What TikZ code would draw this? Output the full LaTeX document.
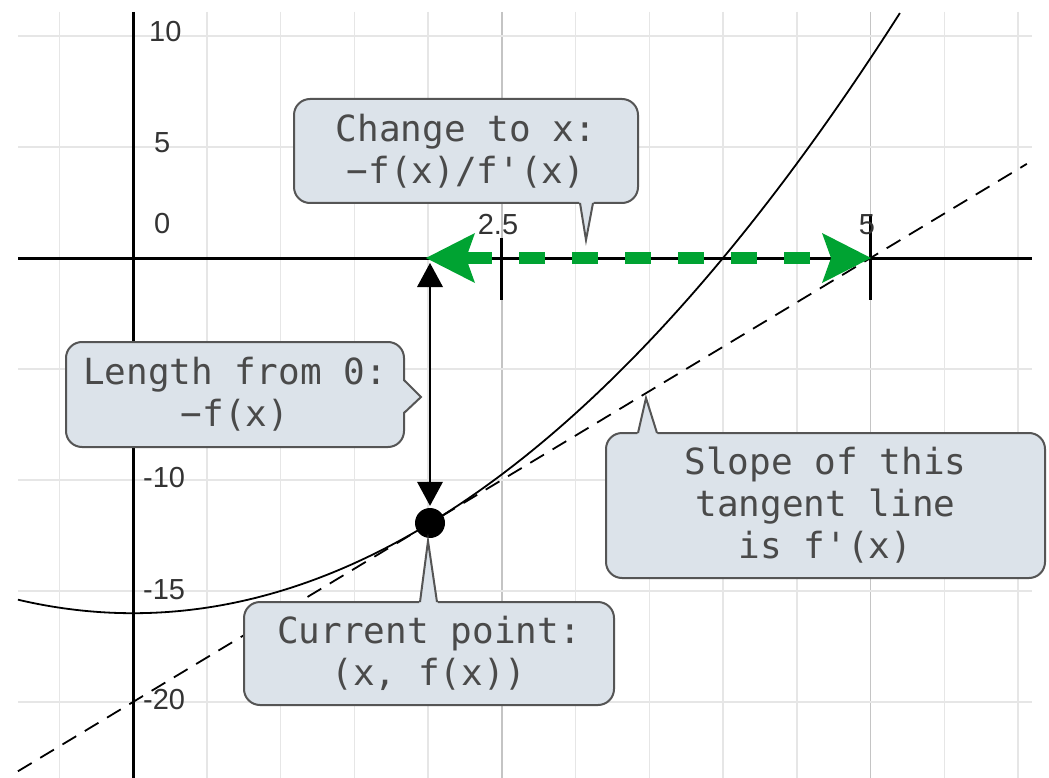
\documentclass[tikz,border=0pt]{standalone}
\usepackage{fontspec}
\setmainfont{Liberation Sans}
\setmonofont{DejaVu Sans Mono}
\usetikzlibrary{arrows.meta}
\definecolor{gridc}{HTML}{E6E6E6}
\definecolor{gridd}{HTML}{C4C4C4}
\definecolor{cfill}{HTML}{DCE3EA}
\definecolor{cborder}{HTML}{555555}
\definecolor{ctext}{HTML}{4A4A4A}
\definecolor{garrow}{HTML}{00A332}
\definecolor{labc}{HTML}{333333}
\begin{document}
\begin{tikzpicture}[x=1pt,y=-1pt,
  gridline/.style={draw=gridc,line width=1.5pt},
  gridmaj/.style={draw=gridd,line width=1.5pt},
  axisline/.style={draw=black,line width=3pt},
  curveline/.style={draw=black,line width=1.8pt},
  tangentline/.style={draw=black,line width=1.8pt,dash pattern=on 16pt off 10pt},
  numlabel/.style={font=\fontsize{29}{33}\selectfont,text=labc,inner sep=0pt},
  callout/.style={draw=cborder,fill=cfill,line width=2pt,rounded corners=16pt,
    align=center,font=\ttfamily\fontsize{36}{42}\selectfont,text=ctext,inner sep=0pt},
  pointerfill/.style={fill=cfill},
  pointerline/.style={draw=cborder,line width=2pt,line join=miter},
  greenarrow/.style={draw=garrow,line width=12pt,dash pattern=on 26pt off 27pt,
    {Stealth[length=49pt,width=50pt,inset=9pt,line width=0pt]}-{Stealth[length=49pt,width=50pt,inset=9pt,line width=0pt]}},
  blackarrow/.style={draw=black,line width=2pt,
    {Triangle[length=24pt,width=26pt,line width=0pt]}-{Triangle[length=24pt,width=26pt,line width=0pt]}},
  dotstyle/.style={circle,fill=black,minimum size=30pt,inner sep=0pt}]
\useasboundingbox (0,0) rectangle (1049,778);
\fill[white] (0,0) rectangle (1049,778);
% grid
\foreach \gx in {59.25,206.75,280.5,354.25,428,575.5,649.25,723,796.75,944.25,1018}
  \draw[gridline] (\gx,12) -- (\gx,778);
\foreach \gx in {501.75,870.5}
  \draw[gridmaj] (\gx,12) -- (\gx,778);
\foreach \gy in {36,147,369,480,591,702}
  \draw[gridline] (18,\gy) -- (1032,\gy);
% axes
\draw[axisline] (18,258) -- (1032,258);
\draw[axisline] (133,12) -- (133,778);
\draw[axisline] (501.75,238) -- (501.75,300);
\draw[axisline] (870.5,215) -- (870.5,300);
% labels
\node[numlabel,anchor=west] (l10) at (149,32) {10};
\node[numlabel,anchor=west] (l5) at (154,143) {5};
\node[numlabel,anchor=west] (l0) at (154,224) {0};
\node[numlabel,anchor=west] (lm10) at (143,478) {-10};
\node[numlabel,anchor=west] (lm15) at (143,590) {-15};
\node[numlabel,anchor=west] (lm20) at (143,700) {-20};
\node[numlabel] (l25) at (498,225) {2.5};
\node[numlabel] (lx5) at (867,225) {5};
% function and tangent
\begin{scope}[x=147.5pt,y=22.2pt,shift={(133pt,-258pt)}]
  \draw[curveline] plot[domain=-0.78:5.2,samples=120,smooth] (\x,{\x*\x-16});
  \draw[tangentline] (-0.78,-23.12) -- (6.06,4.24);
\end{scope}
% green arrow
\coordinate (gl) at (426,258);
\coordinate (gr) at (871,258);
\draw[greenarrow] (gl) -- (gr);
% current point and black arrow
\node[dotstyle] (pt) at (430,523) {};
\coordinate (ax) at (430,258);
\draw[blackarrow,shorten <=5pt,shorten >=2pt] (ax) -- (pt.north);
% callout 1
\node[callout,minimum width=344pt,minimum height=104pt] (c1) at (466,151) {Change to x:\\−f(x)/f'(x)};
\coordinate (t1) at (586,240);
\fill[pointerfill] (579,200) -- (t1) -- (594,200) -- cycle;
\draw[pointerline] (580,203) -- (t1) -- (593,203);
% callout 2
\node[callout,minimum width=338pt,minimum height=105pt] (c2) at (235,394.5) {Length from 0:\\−f(x)};
\coordinate (t2) at (421,397);
\fill[pointerfill] (401,379) -- (t2) -- (401,414) -- cycle;
\draw[pointerline] (404,380) -- (t2) -- (404,413);
% callout 3
\node[callout,minimum width=439pt,minimum height=145pt] (c3) at (825.5,505.5) {Slope of this\\tangent line\\is f'(x)};
\coordinate (t3) at (646,398);
\fill[pointerfill] (637,436) -- (t3) -- (658,436) -- cycle;
\draw[pointerline] (638,433) -- (t3) -- (657,433);
% callout 4
\node[callout,minimum width=370pt,minimum height=103pt] (c4) at (429,653.5) {Current point:\\(x, f(x))};
\coordinate (t4) at (428,541);
\fill[pointerfill] (419,605) -- (t4) -- (438,605) -- cycle;
\draw[pointerline] (420,602) -- (t4) -- (437,602);
\end{tikzpicture}
\end{document}
